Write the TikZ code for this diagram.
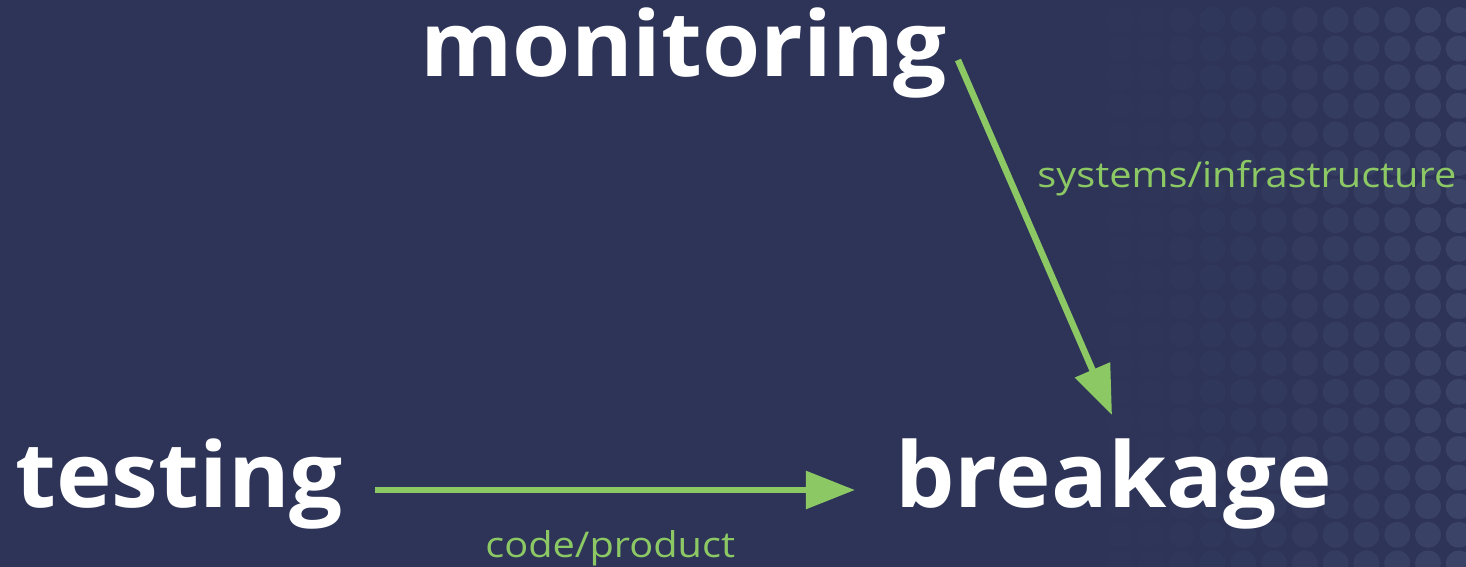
\documentclass[tikz,border=0pt]{standalone}
\usepackage{fontspec}
\setmainfont{Open Sans}
\newfontfamily\wordfont[FakeStretch=1.04]{Open Sans}
\newfontfamily\tagfont[FakeStretch=1.12]{Open Sans}
\usetikzlibrary{arrows.meta}

\definecolor{bgblue}{HTML}{2D3457}
\definecolor{dotblue}{HTML}{3B4367}
\definecolor{leafgreen}{HTML}{8CC864}

\tikzset{
  word/.style={text=white,inner sep=0pt,anchor=base west,
    font=\wordfont\fontsize{51.5}{51.5}\selectfont\bfseries},
  tag/.style={text=leafgreen,inner sep=0pt,anchor=base west,
    font=\tagfont\fontsize{20.2}{20.2}\selectfont},
  flow/.style={draw=leafgreen,line width=3.7pt,
    -{Triangle[length=28pt,width=21pt]}}
}

\begin{document}
\begin{tikzpicture}[x=0.02cm,y=-0.02cm]
  \fill[bgblue] (0,0) rectangle (1466,567);
  \useasboundingbox (0,0) rectangle (1466,567);
  % dotted texture on the right
  \foreach \i in {0,...,11}{
    \foreach \j in {0,...,19}{
      \pgfmathsetmacro{\op}{0.1+0.9*(\i/11)^1.6}
      \fill[dotblue,opacity=\op] (1120+30.8*\i,20+28.6*\j) circle (13);
    }
  }
  \node[word] (monitoring) at (420,77) {monitoring};
  \node[word] (testing) at (15,507) {testing};
  \node[word] (breakage) at (895,507) {breakage};
  \node[tag] (infra) at (1037,188) {systems/infrastructure};
  \node[tag] (product) at (485,557) {code/product};
  \coordinate (m-out) at (958,60);
  \coordinate (b-in) at (1112,415);
  \coordinate (t-out) at (375,490);
  \coordinate (b-left) at (855,490);
  \draw[flow] (t-out) -- (b-left);
  \draw[flow] (m-out) -- (b-in);
\end{tikzpicture}
\end{document}
